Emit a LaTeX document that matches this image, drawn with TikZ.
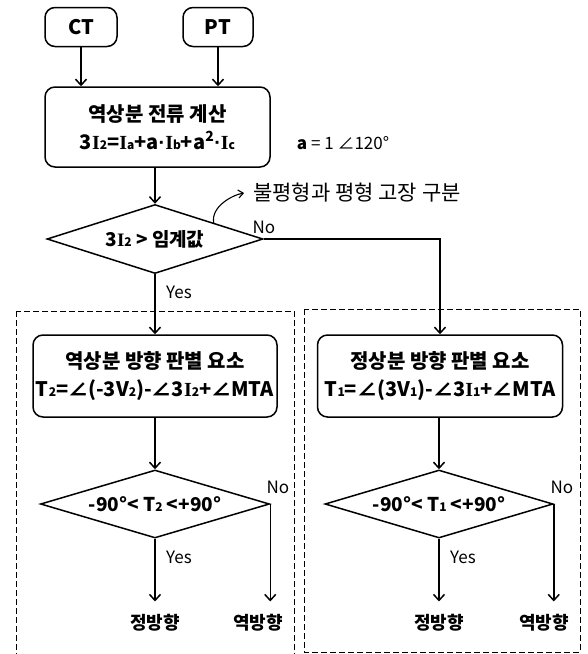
\documentclass[tikz,border=0pt]{standalone}
\usepackage{fontspec}
\setmainfont{Noto Sans CJK KR}
\newfontfamily\serifI{Liberation Serif}
\newfontfamily\latin{Liberation Sans}
\usetikzlibrary{shapes.geometric,arrows.meta,calc}
\newcommand{\IS}{{\serifI\bfseries I}}
\newcommand{\sm}[1]{{\fontsize{12}{12}\selectfont #1}}
\newcommand{\md}{{\latin\bfseries ·}}
\tikzset{
 box/.style={draw, line width=1.5pt, rounded corners=10pt, align=center, inner sep=0pt,
   font=\bfseries\fontsize{20}{28}\selectfont},
 arr/.style={line width=1.5pt, -{Straight Barb[length=6pt,width=11pt,line width=1.5pt]}},
 dec/.style={draw, diamond, line width=1.5pt, inner sep=0pt, aspect=3,
   font=\bfseries\fontsize{19}{22}\selectfont},
 lbl/.style={font=\fontsize{17}{20}\selectfont, inner sep=0pt},
 outlbl/.style={font=\bfseries\fontsize{18}{22}\selectfont, inner sep=0pt, outer ysep=13pt},
 grp/.style={draw, dash pattern=on 6pt off 3pt, line width=0.8pt}
}
\begin{document}
\begin{tikzpicture}[x=1pt,y=-1pt]
\useasboundingbox (0,0) rectangle (588,654);
% groups
\draw[grp] (16,311) rectangle (294,670);
\draw[grp] (304,309) rectangle (580,652);
% top
\node[box, minimum width=72pt, minimum height=39pt] (ct) at (81,27) {CT};
\node[box, minimum width=70pt, minimum height=39pt] (pt) at (218,27) {PT};
\node[box, minimum width=225pt, minimum height=80pt] (calc) at (157.5,127)
  {역상분 전류 계산\\3\IS\sm{2}=\IS\sm{a}+a\md\IS\sm{b}+a\textsuperscript{2}\md\IS\sm{c}};
\node[font=\fontsize{17}{19}\selectfont, inner sep=0pt] (aval) at (343,143) {\textbf{a} = 1 ∠120°};
\node[dec, minimum width=216pt, minimum height=69pt] (d1) at (155,239) {3\IS\sm{2} > 임계값};
\node[font=\fontsize{21}{23}\selectfont, inner sep=0pt] (note) at (357,193) {불평형과 평형 고장 구분};
\node[lbl] (no1) at (264,227) {No};
\node[lbl] (yes1) at (179,292) {Yes};
% left column
\node[box, minimum width=244pt, minimum height=82pt] (lbox) at (155,376)
  {역상분 방향 판별 요소\\T\sm{2}=∠(-3V\sm{2})-∠3\IS\sm{2}+∠MTA};
\node[dec, minimum width=229pt, minimum height=68pt] (d2) at (155,504) {-90°< T\sm{2} <+90°};
\node[lbl] (no2) at (278,487) {No};
\node[lbl] (yes2) at (179,557) {Yes};
\node[outlbl] (lfwd) at (155,623) {정방향};
\node[outlbl] (lrev) at (258,623) {역방향};
% right column
\node[box, minimum width=245pt, minimum height=82pt] (rbox) at (440,376)
  {정상분 방향 판별 요소\\T\sm{1}=∠(3V\sm{1})-∠3\IS\sm{1}+∠MTA};
\node[dec, minimum width=228pt, minimum height=68pt] (d3) at (439,504) {-90°< T\sm{1} <+90°};
\node[lbl] (no3) at (562,487) {No};
\node[lbl] (yes3) at (463,557) {Yes};
\node[outlbl] (rfwd) at (439,623) {정방향};
\node[outlbl] (rrev) at (544,623) {역방향};
% connectors
\draw[arr] (ct.south) -- (ct.south |- calc.north);
\draw[arr] (pt.south) -- (pt.south |- calc.north);
\draw[arr] (calc.south -| d1.north) -- (d1.north);
\draw[arr] (d1.south) -- (lbox.north);
\draw[arr] (d1.east) -| (rbox.north);
\draw[line width=1.1pt, -{Straight Barb[length=5pt,width=8pt,line width=1.1pt]}]
  ($(d1.north)!0.54!(d1.east)$) .. controls +(-3,-16) and +(-12,2) .. ([xshift=-9pt]note.west);
\draw[arr] (lbox.south -| d2.north) -- (d2.north);
\draw[arr] (d2.south) -- (lfwd.north);
\draw[arr] (d2.east) -- (d2.east |- lrev.north);
\draw[arr] (rbox.south -| d3.north) -- (d3.north);
\draw[arr] (d3.south) -- (rfwd.north);
\draw[arr] (d3.east) -- (d3.east |- rrev.north);
\end{tikzpicture}
\end{document}
